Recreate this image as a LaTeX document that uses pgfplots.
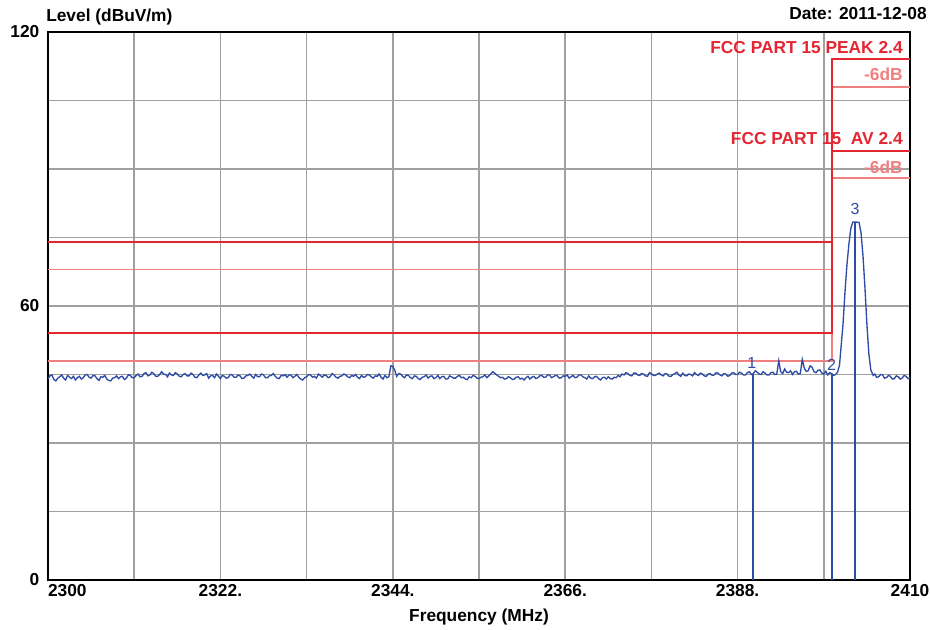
\documentclass[border=0pt]{standalone}
\usepackage{pgfplots}
\pgfplotsset{compat=1.18}
\usepackage{fontspec}
\setmainfont{Liberation Sans}
\definecolor{tracecol}{RGB}{45,75,165}
\definecolor{limdark}{RGB}{228,38,50}
\definecolor{limlight}{RGB}{240,128,128}
\definecolor{gridcol}{RGB}{160,160,160}
\begin{document}
\begin{tikzpicture}[x=0.75pt,y=0.75pt]
\useasboundingbox (-48,-50) rectangle (882,580);
\begin{axis}[
  at={(0,0)}, anchor=south west,
  scale only axis, width=646.5pt, height=411pt,
  xmin=2300, xmax=2410, ymin=0, ymax=120,
  xtick={2300,2322,2344,2366,2388,2410},
  xticklabels={\makebox[0pt][l]{2300},2322.,2344.,2366.,2388.,2410},
  minor xtick={2311,2333,2355,2377,2399},
  ytick={0,60,120}, yticklabels={0,60,120},
  minor ytick={15,30,45,75,90,105},
  grid=both,
  major grid style={draw=gridcol, line width=1.1pt},
  minor grid style={draw=gridcol, line width=1.1pt},
  major tick length=0pt, minor tick length=0pt,
  axis line style={black, line width=1.4pt},
  tick label style={font=\fontsize{13}{15}\selectfont\bfseries},
  yticklabel style={xshift=-3pt},
  /pgf/number format/assume math mode=true,
  clip=true,
]
% limit lines (light first)
\addplot[draw=limlight, line width=1.4pt] coordinates {(2300,68) (2400,68) (2400,108) (2410,108)};
\addplot[draw=limlight, line width=1.4pt] coordinates {(2300,48) (2400,48) (2400,88) (2410,88)};
\addplot[draw=limdark, line width=1.4pt] coordinates {(2300,74) (2400,74) (2400,114) (2410,114)};
\addplot[draw=limdark, line width=1.4pt] coordinates {(2300,54) (2400,54) (2400,94) (2410,94)};
% markers
\addplot[draw=tracecol, line width=1.4pt] coordinates {(2390,0) (2390,45.2)};
\addplot[draw=tracecol, line width=1.4pt] coordinates {(2400,0) (2400,45.2)};
\addplot[draw=tracecol, line width=1.4pt] coordinates {(2403,0) (2403,78.4)};
% trace
\addplot[draw=tracecol, line width=1pt] table[row sep=\\] {
x y\\
2300 44.0\\ 2300.25 44.7\\ 2300.5 44.9\\ 2300.75 43.9\\
2301 43.6\\ 2301.25 44.2\\ 2301.5 44.5\\ 2301.75 44.9\\
2302 44.2\\ 2302.25 43.8\\ 2302.5 44.8\\ 2302.75 44.4\\
2303 44.1\\ 2303.25 44.6\\ 2303.5 43.8\\ 2303.75 44.3\\
2304 44.6\\ 2304.25 44.0\\ 2304.5 44.3\\ 2304.75 44.9\\
2305 45.0\\ 2305.25 44.4\\ 2305.5 44.2\\ 2305.75 44.8\\
2306 44.7\\ 2306.25 44.1\\ 2306.5 43.7\\ 2306.75 44.5\\
2307 44.4\\ 2307.25 44.8\\ 2307.5 44.0\\ 2307.75 43.7\\
2308 43.6\\ 2308.25 44.2\\ 2308.5 44.3\\ 2308.75 44.7\\
2309 44.1\\ 2309.25 44.5\\ 2309.5 44.6\\ 2309.75 43.9\\
2310 44.2\\ 2310.25 44.9\\ 2310.5 44.8\\ 2310.75 44.3\\
2311 44.3\\ 2311.25 44.8\\ 2311.5 45.1\\ 2311.75 44.5\\
2312 44.6\\ 2312.25 45.2\\ 2312.5 45.4\\ 2312.75 44.7\\
2313 44.9\\ 2313.25 45.5\\ 2313.5 45.2\\ 2313.75 44.6\\
2314 44.6\\ 2314.25 45.0\\ 2314.5 45.6\\ 2314.75 45.1\\
2315 45.0\\ 2315.25 44.5\\ 2315.5 45.3\\ 2315.75 44.9\\
2316 44.8\\ 2316.25 45.4\\ 2316.5 45.1\\ 2316.75 44.6\\
2317 44.5\\ 2317.25 45.0\\ 2317.5 45.2\\ 2317.75 44.7\\
2318 44.7\\ 2318.25 45.3\\ 2318.5 45.0\\ 2318.75 44.4\\
2319 44.3\\ 2319.25 44.9\\ 2319.5 45.3\\ 2319.75 44.8\\
2320 44.9\\ 2320.25 45.2\\ 2320.5 44.2\\ 2320.75 44.7\\
2321 44.8\\ 2321.25 44.3\\ 2321.5 45.1\\ 2321.75 44.6\\
2322 44.1\\ 2322.25 44.8\\ 2322.5 44.6\\ 2322.75 44.2\\
2323 44.3\\ 2323.25 45.0\\ 2323.5 44.9\\ 2323.75 44.4\\
2324 44.4\\ 2324.25 44.9\\ 2324.5 44.7\\ 2324.75 44.1\\
2325 44.2\\ 2325.25 44.7\\ 2325.5 44.8\\ 2325.75 45.1\\
2326 44.6\\ 2326.25 44.2\\ 2326.5 45.0\\ 2326.75 44.5\\
2327 44.5\\ 2327.25 45.1\\ 2327.5 44.9\\ 2327.75 44.3\\
2328 44.3\\ 2328.25 44.7\\ 2328.5 44.8\\ 2328.75 45.2\\
2329 44.6\\ 2329.25 44.2\\ 2329.5 44.1\\ 2329.75 44.8\\
2330 44.7\\ 2330.25 45.0\\ 2330.5 44.4\\ 2330.75 44.9\\
2331 44.9\\ 2331.25 44.3\\ 2331.5 44.6\\ 2331.75 45.0\\
2332 44.4\\ 2332.25 44.0\\ 2332.5 43.8\\ 2332.75 44.3\\
2333 44.5\\ 2333.25 45.0\\ 2333.5 44.9\\ 2333.75 44.4\\
2334 44.6\\ 2334.25 44.2\\ 2334.5 45.1\\ 2334.75 44.8\\
2335 44.4\\ 2335.25 44.9\\ 2335.5 44.8\\ 2335.75 44.3\\
2336 44.5\\ 2336.25 45.2\\ 2336.5 44.9\\ 2336.75 44.4\\
2337 44.2\\ 2337.25 44.6\\ 2337.5 44.7\\ 2337.75 45.1\\
2338 44.9\\ 2338.25 44.5\\ 2338.5 44.3\\ 2338.75 44.8\\
2339 44.6\\ 2339.25 45.0\\ 2339.5 44.4\\ 2339.75 44.1\\
2340 44.8\\ 2340.25 44.4\\ 2340.5 44.5\\ 2340.75 45.0\\
2341 44.9\\ 2341.25 44.5\\ 2341.5 44.2\\ 2341.75 44.7\\
2342 44.6\\ 2342.25 45.1\\ 2342.5 44.4\\ 2342.75 44.0\\
2343 44.8\\ 2343.25 44.3\\ 2343.5 44.5\\ 2343.75 46.9\\
2344 46.8\\ 2344.25 45.9\\ 2344.5 44.6\\ 2344.75 45.2\\
2345 45.1\\ 2345.25 44.6\\ 2345.5 44.3\\ 2345.75 44.9\\
2346 44.8\\ 2346.25 44.3\\ 2346.5 44.1\\ 2346.75 44.7\\
2347 44.6\\ 2347.25 44.1\\ 2347.5 43.9\\ 2347.75 44.4\\
2348 44.5\\ 2348.25 44.9\\ 2348.5 44.2\\ 2348.75 44.6\\
2349 44.7\\ 2349.25 44.1\\ 2349.5 44.3\\ 2349.75 44.8\\
2350 44.1\\ 2350.25 44.5\\ 2350.5 44.6\\ 2350.75 44.0\\
2351 44.0\\ 2351.25 44.7\\ 2351.5 44.5\\ 2351.75 44.2\\
2352 44.2\\ 2352.25 44.6\\ 2352.5 44.8\\ 2352.75 44.3\\
2353 44.4\\ 2353.25 44.0\\ 2353.5 43.9\\ 2353.75 44.5\\
2354 44.3\\ 2354.25 44.8\\ 2354.5 44.6\\ 2354.75 44.2\\
2355 44.1\\ 2355.25 44.4\\ 2355.5 44.5\\ 2355.75 44.9\\
2356 44.3\\ 2356.25 44.7\\ 2356.5 45.1\\ 2356.75 45.6\\
2357 45.3\\ 2357.25 44.9\\ 2357.5 44.6\\ 2357.75 44.3\\
2358 44.4\\ 2358.25 44.0\\ 2358.5 44.1\\ 2358.75 44.5\\
2359 44.3\\ 2359.25 43.9\\ 2359.5 44.0\\ 2359.75 44.4\\
2360 44.5\\ 2360.25 44.0\\ 2360.5 44.2\\ 2360.75 43.8\\
2361 44.3\\ 2361.25 44.6\\ 2361.5 44.0\\ 2361.75 44.4\\
2362 44.6\\ 2362.25 44.1\\ 2362.5 44.3\\ 2362.75 44.7\\
2363 44.8\\ 2363.25 44.4\\ 2363.5 44.4\\ 2363.75 44.9\\
2364 44.9\\ 2364.25 44.3\\ 2364.5 44.5\\ 2364.75 44.8\\
2365 44.7\\ 2365.25 44.2\\ 2365.5 44.3\\ 2365.75 44.7\\
2366 44.6\\ 2366.25 44.9\\ 2366.5 44.2\\ 2366.75 44.5\\
2367 44.8\\ 2367.25 44.3\\ 2367.5 44.4\\ 2367.75 44.9\\
2368 44.9\\ 2368.25 44.5\\ 2368.5 44.3\\ 2368.75 44.0\\
2369 44.7\\ 2369.25 44.2\\ 2369.5 44.1\\ 2369.75 44.5\\
2370 44.6\\ 2370.25 44.1\\ 2370.5 43.8\\ 2370.75 44.3\\
2371 44.4\\ 2371.25 44.0\\ 2371.5 44.5\\ 2371.75 44.1\\
2372 44.0\\ 2372.25 44.4\\ 2372.5 44.3\\ 2372.75 44.8\\
2373 44.5\\ 2373.25 45.1\\ 2373.5 44.9\\ 2373.75 45.4\\
2374 45.2\\ 2374.25 44.8\\ 2374.5 44.7\\ 2374.75 45.3\\
2375 45.3\\ 2375.25 44.9\\ 2375.5 44.8\\ 2375.75 45.2\\
2376 45.1\\ 2376.25 44.7\\ 2376.5 44.6\\ 2376.75 45.4\\
2377 45.2\\ 2377.25 44.8\\ 2377.5 44.8\\ 2377.75 45.1\\
2378 45.3\\ 2378.25 44.9\\ 2378.5 44.7\\ 2378.75 45.2\\
2379 45.1\\ 2379.25 44.6\\ 2379.5 44.6\\ 2379.75 45.0\\
2380 45.2\\ 2380.25 45.5\\ 2380.5 44.9\\ 2380.75 44.6\\
2381 45.3\\ 2381.25 44.8\\ 2381.5 44.7\\ 2381.75 45.1\\
2382 45.0\\ 2382.25 44.7\\ 2382.5 45.4\\ 2382.75 45.0\\
2383 44.8\\ 2383.25 45.3\\ 2383.5 45.1\\ 2383.75 44.7\\
2384 44.6\\ 2384.25 45.1\\ 2384.5 45.2\\ 2384.75 44.8\\
2385 44.9\\ 2385.25 45.4\\ 2385.5 45.3\\ 2385.75 44.9\\
2386 44.7\\ 2386.25 45.2\\ 2386.5 45.1\\ 2386.75 44.6\\
2387 44.8\\ 2387.25 45.3\\ 2387.5 45.4\\ 2387.75 45.0\\
2388 45.0\\ 2388.25 45.5\\ 2388.5 45.3\\ 2388.75 44.9\\
2389 44.9\\ 2389.25 45.4\\ 2389.5 45.6\\ 2389.75 45.0\\
2390 45.2\\ 2390.25 45.8\\ 2390.5 45.5\\ 2390.75 45.1\\
2391 45.0\\ 2391.25 45.6\\ 2391.5 45.3\\ 2391.75 44.9\\
2392 44.9\\ 2392.25 45.4\\ 2392.5 45.5\\ 2392.75 45.0\\
2393 45.1\\ 2393.25 48.0\\ 2393.5 45.6\\ 2393.75 45.2\\
2394 46.2\\ 2394.25 45.5\\ 2394.5 45.4\\ 2394.75 45.8\\
2395 45.0\\ 2395.25 45.6\\ 2395.5 45.7\\ 2395.75 45.1\\
2396 45.2\\ 2396.25 48.3\\ 2396.5 46.4\\ 2396.75 45.7\\
2397 45.8\\ 2397.25 46.9\\ 2397.5 46.6\\ 2397.75 45.6\\
2398 45.4\\ 2398.25 45.9\\ 2398.5 46.0\\ 2398.75 45.3\\
2399 45.1\\ 2399.25 45.7\\ 2399.5 44.9\\ 2399.75 45.4\\
2400 45.2\\ 2400.25 44.8\\ 2400.5 45.0\\ 2400.75 45.5\\
2401 47.0\\ 2401.2 51.0\\ 2401.45 56.0\\ 2401.7 63.0\\
2401.95 69.0\\ 2402.2 73.5\\ 2402.45 77.0\\ 2402.7 78.4\\
2403 78.4\\ 2403.5 78.3\\ 2403.75 76.0\\ 2404 71.0\\
2404.25 64.0\\ 2404.5 56.0\\ 2404.75 49.5\\ 2405 46.0\\
2405.3 44.8\\ 2405.5 45.1\\ 2405.75 44.4\\ 2406 44.5\\
2406.25 45.0\\ 2406.5 44.9\\ 2406.75 44.2\\ 2407 44.3\\
2407.25 44.8\\ 2407.5 44.6\\ 2407.75 44.0\\ 2408 44.1\\
2408.25 44.7\\ 2408.5 44.5\\ 2408.75 44.0\\ 2409 44.2\\
2409.25 44.8\\ 2409.5 44.6\\ 2409.75 44.1\\ 2410 44.3\\
};
% limit labels
\node[anchor=base east, text=limdark, font=\fontsize{13}{15}\selectfont\bfseries, inner sep=0pt] at (axis cs:2409.1,115.3) {FCC PART 15 PEAK 2.4};
\node[anchor=base east, text=limlight, font=\fontsize{13}{15}\selectfont\bfseries, inner sep=0pt] at (axis cs:2409.1,109.3) {-6dB};
\node[anchor=base east, text=limdark, font=\fontsize{13}{15}\selectfont\bfseries, inner sep=0pt] at (axis cs:2409.1,95.3) {FCC PART 15\ \ AV 2.4};
\node[anchor=base east, text=limlight, font=\fontsize{13}{15}\selectfont\bfseries, inner sep=0pt] at (axis cs:2409.1,89.0) {-6dB};
% marker labels
\node[text=tracecol, font=\fontsize{12}{14}\selectfont, inner sep=0pt] at (axis cs:2389.8,47.6) {1};
\node[text=tracecol, font=\fontsize{12}{14}\selectfont, inner sep=0pt] at (axis cs:2400.0,47.2) {2};
\node[text=tracecol, font=\fontsize{12}{14}\selectfont, inner sep=0pt] at (axis cs:2403.0,81.2) {3};
\end{axis}
\node[anchor=base west, font=\fontsize{13}{15}\selectfont\bfseries, inner sep=0pt] at (-2,558) {Level (dBuV/m)};
\node[anchor=base east, font=\fontsize{13}{15}\selectfont\bfseries, inner sep=0pt] at (879,560) {Date: 2011-12-08};
\node[anchor=base, font=\fontsize{13}{15}\selectfont\bfseries, inner sep=0pt] at (431,-42) {Frequency (MHz)};
\end{tikzpicture}
\end{document}
